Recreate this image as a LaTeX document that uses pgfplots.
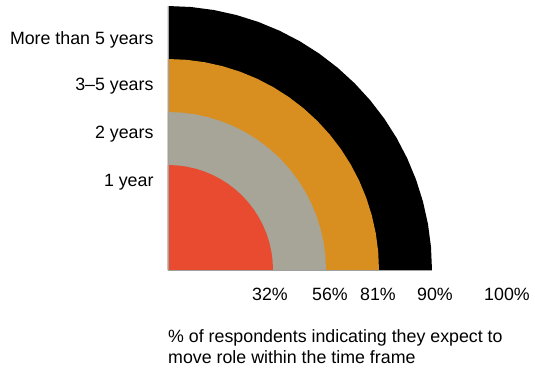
\documentclass[border=0pt]{standalone}
\usepackage{fontspec}
\setmainfont{Liberation Sans}
\usepackage{pgfplots}
\usepackage{pgfplotstable}
\pgfplotsset{compat=1.18}
\definecolor{cRed}{HTML}{E84B2F}
\definecolor{cGray}{HTML}{A6A597}
\definecolor{cOrange}{HTML}{D98F20}
\definecolor{cAxis}{HTML}{A0A0A0}
% angle (deg), radius of each ring (1 year, 2 years, 3-5 years, >5 years)
\pgfplotstableread{
a  r1  r2  r3  r4
0  0   0   0   0
0  105 158 211 264
5  105 158 211 264
10 105 158 211 264
15 105 158 211 264
20 105 158 211 264
25 105 158 211 264
30 105 158 211 264
35 105 158 211 264
40 105 158 211 264
45 105 158 211 264
50 105 158 211 264
55 105 158 211 264
60 105 158 211 264
65 105 158 211 264
70 105 158 211 264
75 105 158 211 264
80 105 158 211 264
85 105 158 211 264
90 105 158 211 264
90 0   0   0   0
}\rings
\newcommand{\lblfont}{\fontsize{17.8bp}{21bp}\selectfont}
\begin{document}
\begin{tikzpicture}
\path[use as bounding box] (-168bp,-100bp) rectangle (367bp,270bp);
\begin{axis}[
  at={(0,0)}, anchor=origin,
  x=1bp, y=1bp,
  xmin=0, xmax=264, ymin=0, ymax=264,
  axis lines=left,
  axis line style={-, draw=cAxis, line width=0.7bp},
  axis on top,
  clip=false,
  xtick={102,162,210},
  xticklabels={32\%,56\%,81\%},
  ytick={88,136,184,230},
  yticklabels={1 year,2 years,3--5 years,More than 5 years},
  major tick length=0,
  tick label style={font=\lblfont},
  xticklabel style={yshift=-15bp},
  yticklabel style={xshift=-11bp},
]
\addplot[draw=none, fill=black, data cs=polar] table[x=a, y=r4] {\rings};
\addplot[draw=none, fill=cOrange, data cs=polar] table[x=a, y=r3] {\rings};
\addplot[draw=none, fill=cGray, data cs=polar] table[x=a, y=r2] {\rings};
\addplot[draw=none, fill=cRed, data cs=polar] table[x=a, y=r1] {\rings};
\node[anchor=north, yshift=-15bp, font=\lblfont] at (axis cs:267,0) {90\%};
\node[anchor=north, yshift=-15bp, font=\lblfont] at (axis cs:339,0) {100\%};
\node[anchor=north west, align=left, inner sep=0pt, font=\lblfont] at (axis cs:0,-59)
  {\% of respondents indicating they expect to\\move role within the time frame};
\end{axis}
\end{tikzpicture}
\end{document}
